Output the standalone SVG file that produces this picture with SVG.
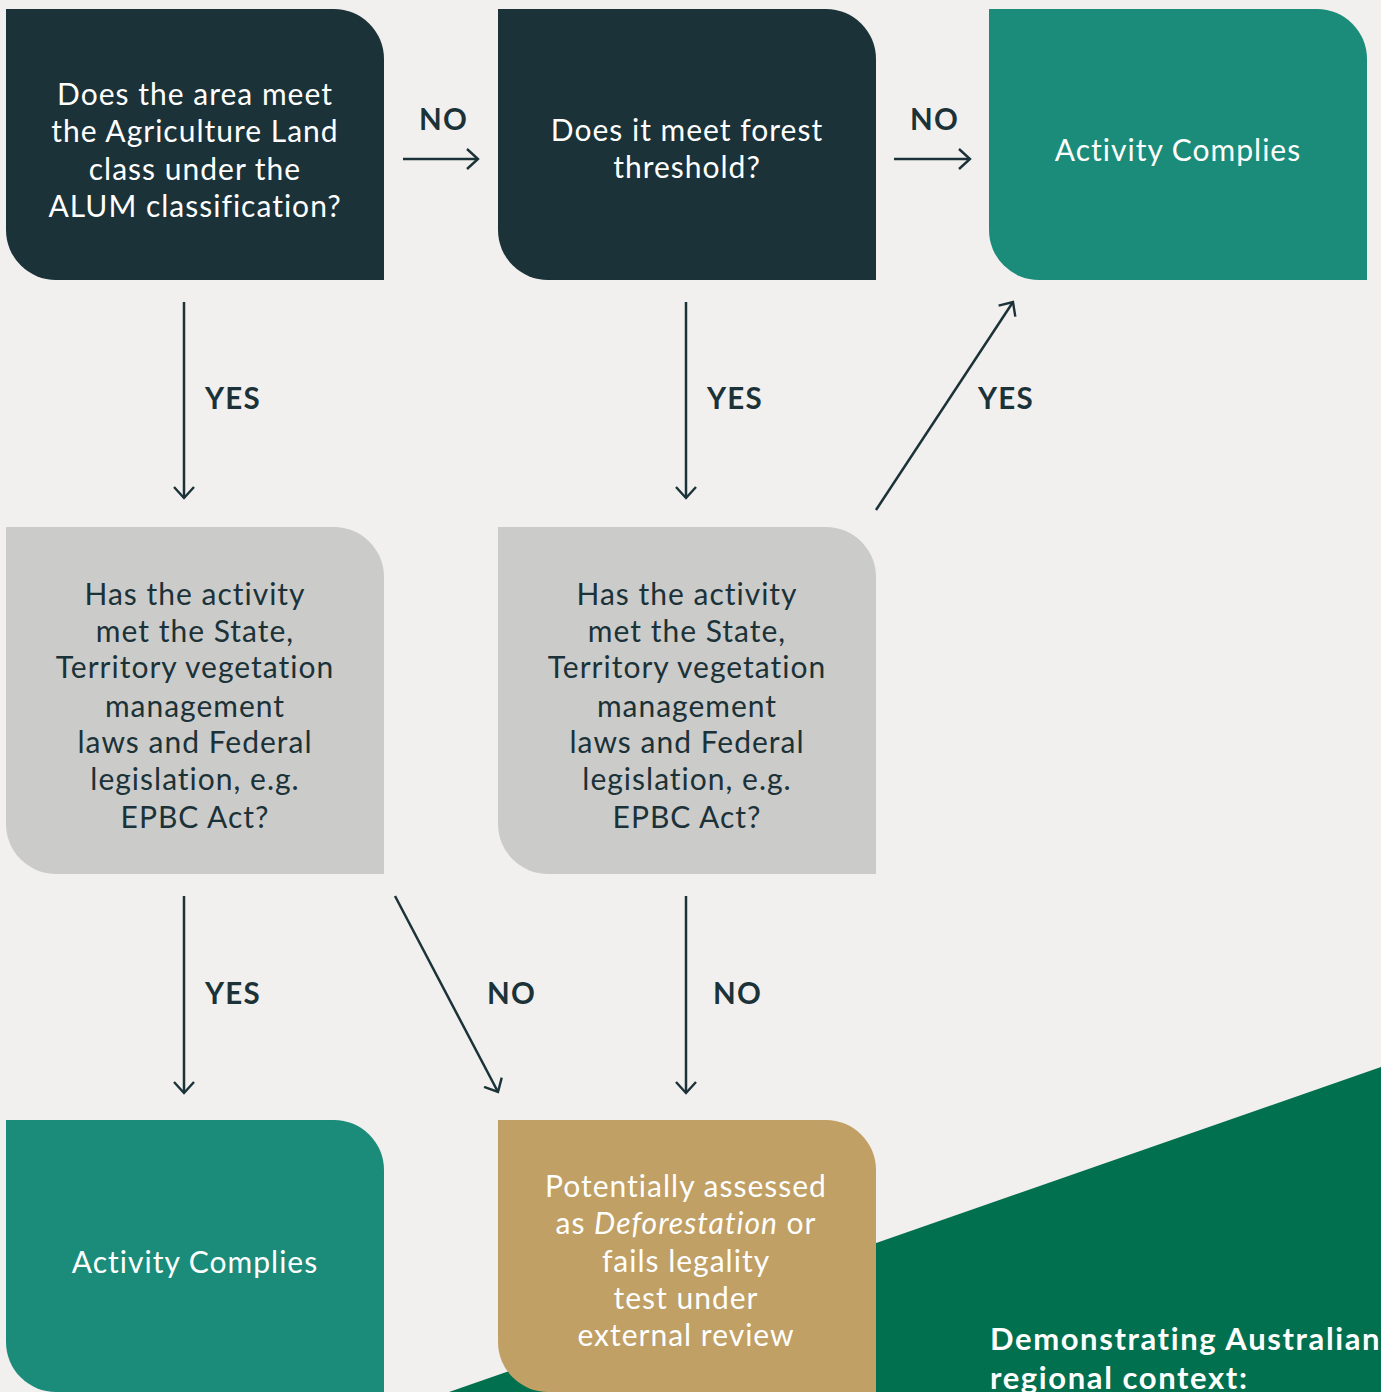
<svg xmlns="http://www.w3.org/2000/svg" width="1381" height="1392" viewBox="0 0 1381 1392">
<defs>
<style>
.t{font-family:Lato,"Noto Sans",sans-serif;font-size:30px;letter-spacing:1px;text-anchor:middle}
.w{fill:#ffffff}
.d{fill:#1B3238}
.lbl{font-family:Lato,"Noto Sans",sans-serif;font-size:29.5px;letter-spacing:1.2px;font-weight:bold;fill:#1B3238}
.c{stroke:#1B3238;stroke-width:2.5;fill:none;marker-end:url(#ah)}
</style>
<marker id="ah" viewBox="0 0 14 22" refX="12" refY="11" markerWidth="14" markerHeight="22" markerUnits="userSpaceOnUse" orient="auto">
<path d="M1,1 L12,11 L1,21" fill="none" stroke="#1B3238" stroke-width="2.4"/>
</marker>
</defs>
<rect width="1381" height="1392" fill="#F2F0EE"/>
<polygon points="449,1392 1381,1067 1381,1392" fill="#00704F"/>
<g id="n1">
<path d="M6,9 H334 A50,50 0 0 1 384,59 V280 H56 A50,50 0 0 1 6,230 Z" fill="#1B3238"/>
<text class="t w"><tspan x="195" y="105">Does the area meet</tspan><tspan x="195" y="142">the Agriculture Land</tspan><tspan x="195" y="180">class under the</tspan><tspan x="195" y="217">ALUM classification?</tspan></text>
</g>
<g id="n2">
<path d="M498,9 H826 A50,50 0 0 1 876,59 V280 H548 A50,50 0 0 1 498,230 Z" fill="#1B3238"/>
<text class="t w"><tspan x="687" y="141">Does it meet forest</tspan><tspan x="687" y="178">threshold?</tspan></text>
</g>
<g id="n3">
<path d="M989,9 H1317 A50,50 0 0 1 1367,59 V280 H1039 A50,50 0 0 1 989,230 Z" fill="#1B8C7A"/>
<text class="t w" x="1178" y="161">Activity Complies</text>
</g>
<g id="n4">
<path d="M6,527 H334 A50,50 0 0 1 384,577 V874 H56 A50,50 0 0 1 6,824 Z" fill="#CBCBCA"/>
<text class="t d"><tspan x="195" y="605">Has the activity</tspan><tspan x="195" y="642">met the State,</tspan><tspan x="195" y="678">Territory vegetation</tspan><tspan x="195" y="717">management</tspan><tspan x="195" y="753">laws and Federal</tspan><tspan x="195" y="790">legislation, e.g.</tspan><tspan x="195" y="828">EPBC Act?</tspan></text>
</g>
<g id="n5">
<path d="M498,527 H826 A50,50 0 0 1 876,577 V874 H548 A50,50 0 0 1 498,824 Z" fill="#CBCBCA"/>
<text class="t d"><tspan x="687" y="605">Has the activity</tspan><tspan x="687" y="642">met the State,</tspan><tspan x="687" y="678">Territory vegetation</tspan><tspan x="687" y="717">management</tspan><tspan x="687" y="753">laws and Federal</tspan><tspan x="687" y="790">legislation, e.g.</tspan><tspan x="687" y="828">EPBC Act?</tspan></text>
</g>
<g id="n6">
<path d="M6,1120 H334 A50,50 0 0 1 384,1170 V1392 H56 A50,50 0 0 1 6,1342 Z" fill="#1B8C7A"/>
<text class="t w" x="195" y="1273">Activity Complies</text>
</g>
<g id="n7">
<path d="M498,1120 H826 A50,50 0 0 1 876,1170 V1392 H548 A50,50 0 0 1 498,1342 Z" fill="#C0A065"/>
<text class="t w"><tspan x="686" y="1197">Potentially assessed</tspan><tspan x="686" y="1234">as <tspan font-style="italic">Deforestation</tspan> or</tspan><tspan x="686" y="1272">fails legality</tspan><tspan x="686" y="1309">test under</tspan><tspan x="686" y="1346">external review</tspan></text>
</g>
<g id="connectors">
<line class="c" x1="403" y1="159" x2="478" y2="159"/>
<line class="c" x1="894" y1="159" x2="970" y2="159"/>
<line class="c" x1="184" y1="302" x2="184" y2="498"/>
<line class="c" x1="686" y1="302" x2="686" y2="498"/>
<line class="c" x1="876" y1="510" x2="1013" y2="302"/>
<line class="c" x1="184" y1="896" x2="184" y2="1093"/>
<line class="c" x1="395" y1="896" x2="498" y2="1092"/>
<line class="c" x1="686" y1="896" x2="686" y2="1093"/>
<text class="lbl" x="419" y="130">NO</text>
<text class="lbl" x="910" y="130">NO</text>
<text class="lbl" x="205" y="409">YES</text>
<text class="lbl" x="707" y="409">YES</text>
<text class="lbl" x="978" y="409">YES</text>
<text class="lbl" x="205" y="1004">YES</text>
<text class="lbl" x="487" y="1004">NO</text>
<text class="lbl" x="713" y="1004">NO</text>
</g>
<text font-family="Lato,'Noto Sans',sans-serif" font-size="31" letter-spacing="1.6" font-weight="bold" fill="#ffffff"><tspan x="990" y="1350">Demonstrating Australian</tspan><tspan x="990" y="1389">regional context:</tspan></text>
</svg>
